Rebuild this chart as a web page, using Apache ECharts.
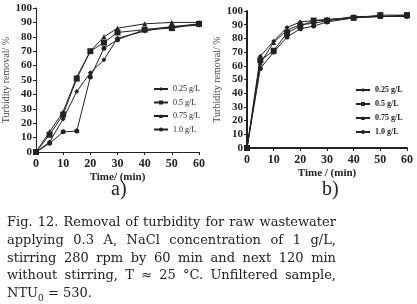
<!DOCTYPE html>
<html>
<head>
<meta charset="utf-8">
<script src="https://cdn.jsdelivr.net/npm/echarts@6/dist/echarts.min.js"></script>
<style>
  body { margin: 0; background: #fff; }
  #main { width: 417px; height: 304px; }
  #caption {
    position: absolute; left: 7px; top: 213px; width: 329px;
    font-family: "DejaVu Serif", "Liberation Serif", serif;
    font-size: 13px; line-height: 17.8px; color: #222;
  }
  #caption div { text-align: justify; text-align-last: justify; white-space: nowrap; }
  #caption div.last { text-align-last: left; }
</style>
</head>
<body>
<div id="main"></div>
<div id="caption">
  <div>Fig. 12. Removal of turbidity for raw wastewater</div>
  <div>applying 0.3 A, NaCl concentration of 1 g/L,</div>
  <div>stirring 280 rpm by 60 min and next 120 min</div>
  <div>without stirring, T &asymp; 25 &deg;C. Unfiltered sample,</div>
  <div class="last">NTU<sub style="font-size:9px">0</sub> = 530.</div>
</div>
<script>
// time points (min)
var times = [0, 5, 10, 15, 20, 25, 30, 40, 50, 60];
var names = ['0.25 g/L', '0.5 g/L', '0.75 g/L', '1.0 g/L'];
var symbols = ['diamond', 'rect', 'triangle', 'circle'];

// panel a) removal %
var a025 = [0, 7, 23, 42, 55, 64, 79, 84, 87, 88];
var a050 = [0, 12, 26, 51, 70, 76, 83, 85, 86, 89];
var a075 = [0, 14, 28, 52, 70, 80, 86, 89, 90, 90];
var a100 = [0, 6, 14, 14.5, 52, 72, 78, 85, 87, 89];

// panel b) removal %
var b025 = [0, 67, 78, 88, 92, 93, 94, 95, 96, 96];
var b050 = [0, 64, 71, 84, 89, 93, 93, 95, 97, 97];
var b075 = [0, 62, 77, 86, 90, 91, 93, 96, 96, 97];
var b100 = [0, 58, 70, 81, 87, 89, 92, 95, 96, 96];

var serif = '"Liberation Serif", "DejaVu Serif", serif';
var ink = '#222';

function pairs(vals) {
  return times.map(function (t, i) { return [t, vals[i]]; });
}

function makeSeries(vals, k, idx) {
  return {
    name: names[k],
    type: 'line',
    xAxisIndex: idx, yAxisIndex: idx,
    data: pairs(vals),
    symbol: symbols[k],
    symbolSize: k == 1 ? 6 : 5,
    lineStyle: { color: ink, width: 1 },
    itemStyle: { color: ink }
  };
}

function xAx(idx, name, lw) {
  return {
    gridIndex: idx, type: 'value', min: 0, max: 60, interval: 10,
    name: name, nameLocation: 'middle', nameGap: 20,
    nameTextStyle: { fontFamily: serif, fontWeight: 'bold', fontSize: 11, color: ink },
    axisLine: { lineStyle: { color: ink, width: lw } },
    axisTick: { length: 3, lineStyle: { color: ink } },
    axisLabel: { fontFamily: serif, fontWeight: 'bold', fontSize: 12, color: ink, margin: 6 },
    splitLine: { show: false }
  };
}

function yAx(idx, lw) {
  return {
    gridIndex: idx, type: 'value', min: 0, max: 100, interval: 10,
    name: 'Turbidity removal/ %', nameLocation: 'middle', nameGap: 25,
    nameTextStyle: { fontFamily: serif, fontSize: 10, color: '#444' },
    axisLine: { show: true, lineStyle: { color: ink, width: lw } },
    axisTick: { show: true, length: 3, lineStyle: { color: ink } },
    axisLabel: { fontFamily: serif, fontWeight: 'bold', fontSize: 11, color: ink, margin: 4 },
    splitLine: { show: false }
  };
}

var chart = echarts.init(document.getElementById('main'));
chart.setOption({
  animation: false,
  grid: [
    { left: 33, right: 218, top: 8, bottom: 152 },
    { left: 247, right: 10, top: 11, bottom: 156 }
  ],
  xAxis: [xAx(0, 'Time/ (min)', 1), xAx(1, 'Time / (min)', 2)],
  yAxis: [yAx(0, 1), yAx(1, 2)],
  legend: [
    { data: names, orient: 'vertical', left: 148, top: 80, itemWidth: 14, itemHeight: 5, itemGap: 5.5,
      textStyle: { fontFamily: serif, fontSize: 8, color: ink } },
    { data: names, orient: 'vertical', left: 350, top: 81, itemWidth: 14, itemHeight: 5, itemGap: 6,
      textStyle: { fontFamily: serif, fontSize: 8, color: ink, fontWeight: 'bold' } }
  ],
  graphic: [
    { type: 'text', left: 111, top: 180, style: { text: 'a)', font: '20px ' + serif, fill: ink } },
    { type: 'text', left: 322, top: 180, style: { text: 'b)', font: '20px ' + serif, fill: ink } }
  ],
  series: [
    makeSeries(a025, 0, 0), makeSeries(a050, 1, 0), makeSeries(a075, 2, 0), makeSeries(a100, 3, 0),
    makeSeries(b025, 0, 1), makeSeries(b050, 1, 1), makeSeries(b075, 2, 1), makeSeries(b100, 3, 1)
  ]
});
</script>
</body>
</html>
